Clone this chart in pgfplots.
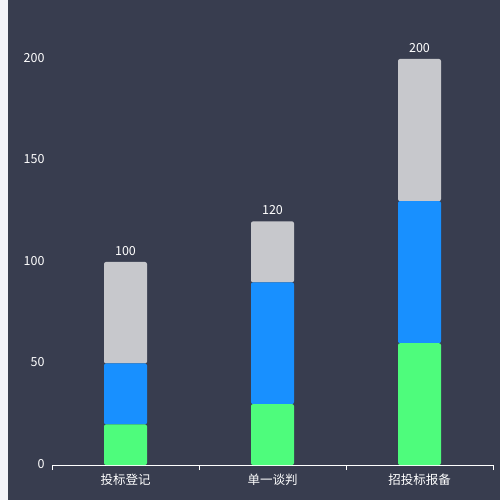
\documentclass[border=0pt]{standalone}
\usepackage{fontspec}
\setmainfont{Noto Sans CJK SC}
\usepackage{pgfplots}
\pgfplotsset{compat=1.18}
\definecolor{bgdark}{HTML}{383D4F}
\definecolor{strip}{HTML}{F2F3F8}
\definecolor{cgreen}{HTML}{4EFC7C}
\definecolor{cblue}{HTML}{1890FF}
\definecolor{cgray}{HTML}{C7C8CC}

\pgfplotsset{
    frame/.style={
        at={(52pt,35pt)}, anchor=south west,
        scale only axis, width=441pt, height=406pt,
        bar width=43pt,
        xmin=-0.5, xmax=2.5, ymin=0, ymax=200,
        clip=false,
    },
}

\begin{document}
\begin{tikzpicture}[x=1pt,y=1pt]
\path[use as bounding box] (0,0) rectangle (500,500);
\fill[bgdark] (0,0) rectangle (500,500);
\fill[strip] (0,0) rectangle (8,500);
\begin{axis}[
    frame,
    ybar stacked,
    axis x line*=bottom, axis y line*=left,
    x axis line style={-, draw=white, line width=1pt},
    y axis line style={draw=none},
    tick align=outside,
    major tick length=0pt,
    xtick={0,1,2},
    xticklabels={投标登记,单一谈判,招投标报备},
    xtick style={draw=white, line width=1pt},
    extra x ticks={-0.5,0.5,1.5,2.5},
    extra x tick labels={},
    extra x tick style={major tick length=5pt},
    ytick={0,50,100,150,200},
    ytick style={draw=none},
    tick label style={font=\fontsize{12.5}{14}\selectfont, text=white},
    xticklabel style={yshift=-5pt},
    yticklabel style={xshift=-4pt, yshift=1pt},
    /pgf/number format/assume math mode=true,
]
\addplot[fill=cgreen, draw=none, rounded corners=2pt] coordinates {(0,20) (1,30) (2,60)};
\addplot[fill=cblue, draw=none, rounded corners=2pt] coordinates {(0,30) (1,60) (2,70)};
\addplot[fill=cgray, draw=none, rounded corners=2pt] coordinates {(0,50) (1,30) (2,70)};
\end{axis}
% totals above each stack
\begin{axis}[
    frame, ybar, hide axis,
    nodes near coords,
    every node near coord/.append style={font=\fontsize{12.5}{14}\selectfont, text=white, anchor=south, yshift=3pt},
    /pgf/number format/assume math mode=true,
]
\addplot[draw=none, fill=none] coordinates {(0,100) (1,120) (2,200)};
\end{axis}
\end{tikzpicture}
\end{document}
